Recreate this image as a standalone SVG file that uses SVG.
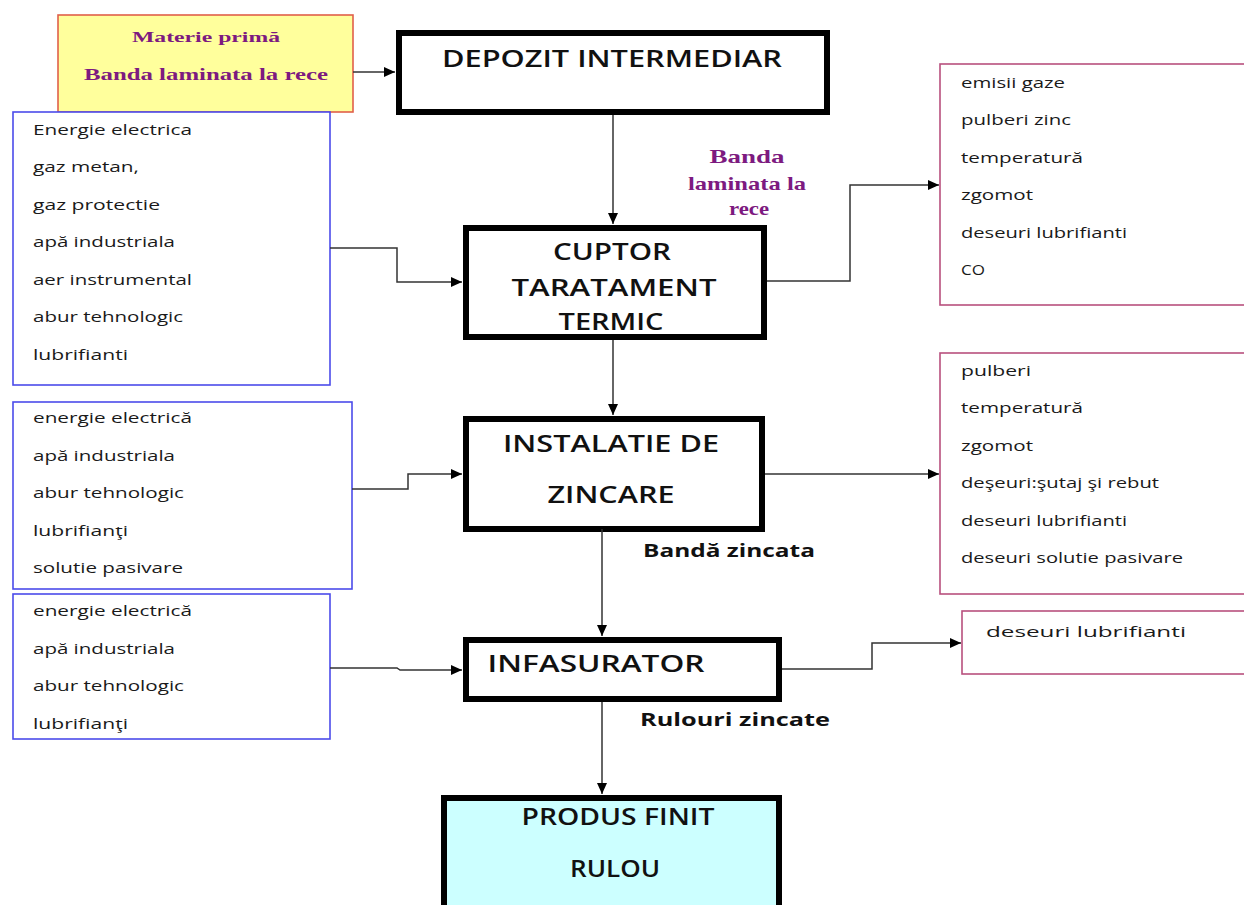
<svg xmlns="http://www.w3.org/2000/svg" width="1244" height="905" viewBox="0 0 1244 905">
  <style>
    .proc { fill: #ffffff; stroke: #000000; stroke-width: 6; }
    .inbox { fill: #ffffff; stroke: #4b4bea; stroke-width: 1.6; }
    .outbox { fill: #ffffff; stroke: #b8507e; stroke-width: 1.6; }
    .raw { fill: #ffff9c; stroke: #e0604a; stroke-width: 1.6; }
    .final { fill: #ccffff; stroke: #000000; stroke-width: 6; }
    .item { font-family: "Open Sans", "Liberation Sans", sans-serif; font-size: 14px; fill: #1a1a1a; }
    .big { font-family: "Open Sans", "Liberation Sans", sans-serif; font-size: 23px; font-weight: 600; fill: #111111; text-anchor: middle; }
    .flow { font-family: "Open Sans", "Liberation Sans", sans-serif; font-size: 17px; font-weight: bold; fill: #111111; }
    .purple { font-family: "Liberation Serif", serif; font-weight: bold; fill: #7d1a80; text-anchor: middle; }
    .conn { fill: none; stroke: #333333; stroke-width: 1.5; marker-end: url(#arrow); }
  </style>
  <defs>
    <marker id="arrow" markerUnits="userSpaceOnUse" markerWidth="12" markerHeight="10" refX="11" refY="5" orient="auto">
      <path d="M0,0 L11,5 L0,10 z" fill="#000000"/>
    </marker>
  </defs>

  <rect width="1244" height="905" fill="#ffffff"/>

  <!-- raw material -->
  <g id="materie-prima">
    <rect class="raw" x="58" y="15" width="295" height="97"/>
    <text class="purple" x="206" y="42" font-size="15" textLength="148" lengthAdjust="spacingAndGlyphs">Materie primă</text>
    <text class="purple" x="206" y="80" font-size="16" textLength="244" lengthAdjust="spacingAndGlyphs">Banda  laminata  la rece</text>
  </g>

  <!-- main process chain -->
  <g id="depozit">
    <rect class="proc" x="399" y="33" width="428" height="79"/>
    <text class="big" x="612" y="67" textLength="340" lengthAdjust="spacingAndGlyphs">DEPOZIT INTERMEDIAR</text>
  </g>

  <g id="banda-label">
    <text class="purple" x="747" y="163" font-size="19" textLength="75" lengthAdjust="spacingAndGlyphs">Banda</text>
    <text class="purple" x="747" y="190" font-size="19" textLength="118" lengthAdjust="spacingAndGlyphs">laminata la</text>
    <text class="purple" x="749" y="215" font-size="19" textLength="40" lengthAdjust="spacingAndGlyphs">rece</text>
  </g>

  <g id="cuptor">
    <rect class="proc" x="466" y="228" width="298" height="109"/>
    <text class="big" x="612" y="260" textLength="118" lengthAdjust="spacingAndGlyphs">CUPTOR</text>
    <text class="big" x="614" y="296" textLength="205" lengthAdjust="spacingAndGlyphs">TARATAMENT</text>
    <text class="big" x="611" y="330" textLength="105" lengthAdjust="spacingAndGlyphs">TERMIC</text>
  </g>

  <g id="instalatie">
    <rect class="proc" x="466" y="419" width="296" height="110"/>
    <text class="big" x="611" y="452" textLength="216" lengthAdjust="spacingAndGlyphs">INSTALATIE DE</text>
    <text class="big" x="611" y="503" textLength="127" lengthAdjust="spacingAndGlyphs">ZINCARE</text>
  </g>

  <g id="banda-zincata">
    <text class="flow" x="643" y="557" textLength="172" lengthAdjust="spacingAndGlyphs">Bandă zincata</text>
  </g>

  <g id="infasurator">
    <rect class="proc" x="466" y="640" width="313" height="59"/>
    <text class="big" x="596" y="672" textLength="217" lengthAdjust="spacingAndGlyphs">INFASURATOR</text>
  </g>

  <g id="rulouri-zincate">
    <text class="flow" x="640" y="726" textLength="190" lengthAdjust="spacingAndGlyphs">Rulouri zincate</text>
  </g>

  <g id="produs-finit">
    <rect class="final" x="444" y="798" width="335" height="120"/>
    <text class="big" x="618" y="825" textLength="193" lengthAdjust="spacingAndGlyphs">PRODUS FINIT</text>
    <text class="big" x="615" y="877" textLength="90" lengthAdjust="spacingAndGlyphs">RULOU</text>
  </g>

  <!-- inputs -->
  <g id="intrari-cuptor">
    <rect class="inbox" x="13" y="112" width="317" height="273"/>
    <text class="item" x="33" y="135" textLength="159" lengthAdjust="spacingAndGlyphs">Energie electrica</text>
    <text class="item" x="33" y="172" textLength="106" lengthAdjust="spacingAndGlyphs">gaz metan,</text>
    <text class="item" x="33" y="210" textLength="127" lengthAdjust="spacingAndGlyphs">gaz protectie</text>
    <text class="item" x="33" y="247" textLength="142" lengthAdjust="spacingAndGlyphs">apă industriala</text>
    <text class="item" x="33" y="285" textLength="159" lengthAdjust="spacingAndGlyphs">aer instrumental</text>
    <text class="item" x="33" y="322" textLength="150" lengthAdjust="spacingAndGlyphs">abur tehnologic</text>
    <text class="item" x="33" y="360" textLength="95" lengthAdjust="spacingAndGlyphs">lubrifianti</text>
  </g>

  <g id="intrari-zincare">
    <rect class="inbox" x="13" y="402" width="339" height="187"/>
    <text class="item" x="33" y="423" textLength="159" lengthAdjust="spacingAndGlyphs">energie electrică</text>
    <text class="item" x="33" y="461" textLength="142" lengthAdjust="spacingAndGlyphs">apă industriala</text>
    <text class="item" x="33" y="498" textLength="151" lengthAdjust="spacingAndGlyphs">abur tehnologic</text>
    <text class="item" x="33" y="536" textLength="95" lengthAdjust="spacingAndGlyphs">lubrifianţi</text>
    <text class="item" x="33" y="573" textLength="150" lengthAdjust="spacingAndGlyphs">solutie pasivare</text>
  </g>

  <g id="intrari-infasurator">
    <rect class="inbox" x="13" y="594" width="317" height="145"/>
    <text class="item" x="33" y="616" textLength="159" lengthAdjust="spacingAndGlyphs">energie electrică</text>
    <text class="item" x="33" y="654" textLength="142" lengthAdjust="spacingAndGlyphs">apă industriala</text>
    <text class="item" x="33" y="691" textLength="151" lengthAdjust="spacingAndGlyphs">abur tehnologic</text>
    <text class="item" x="33" y="729" textLength="95" lengthAdjust="spacingAndGlyphs">lubrifianţi</text>
  </g>

  <!-- outputs -->
  <g id="iesiri-cuptor">
    <rect class="outbox" x="940" y="64" width="320" height="241"/>
    <text class="item" x="961" y="88" textLength="104" lengthAdjust="spacingAndGlyphs">emisii gaze</text>
    <text class="item" x="961" y="125" textLength="110" lengthAdjust="spacingAndGlyphs">pulberi zinc</text>
    <text class="item" x="961" y="163" textLength="122" lengthAdjust="spacingAndGlyphs">temperatură</text>
    <text class="item" x="961" y="200" textLength="72" lengthAdjust="spacingAndGlyphs">zgomot</text>
    <text class="item" x="961" y="238" textLength="166" lengthAdjust="spacingAndGlyphs">deseuri lubrifianti</text>
    <text class="item" x="961" y="275" textLength="24" lengthAdjust="spacingAndGlyphs">CO</text>
  </g>

  <g id="iesiri-zincare">
    <rect class="outbox" x="940" y="353" width="320" height="241"/>
    <text class="item" x="961" y="376" textLength="70" lengthAdjust="spacingAndGlyphs">pulberi</text>
    <text class="item" x="961" y="413" textLength="122" lengthAdjust="spacingAndGlyphs">temperatură</text>
    <text class="item" x="961" y="451" textLength="72" lengthAdjust="spacingAndGlyphs">zgomot</text>
    <text class="item" x="961" y="488" textLength="198" lengthAdjust="spacingAndGlyphs">deşeuri:şutaj şi rebut</text>
    <text class="item" x="961" y="526" textLength="166" lengthAdjust="spacingAndGlyphs">deseuri lubrifianti</text>
    <text class="item" x="961" y="563" textLength="222" lengthAdjust="spacingAndGlyphs">deseuri solutie pasivare</text>
  </g>

  <g id="iesiri-infasurator">
    <rect class="outbox" x="962" y="611" width="300" height="63"/>
    <text class="item" x="986" y="637" font-size="17" textLength="200" lengthAdjust="spacingAndGlyphs">deseuri lubrifianti</text>
  </g>

  <!-- connectors -->
  <g id="connectors">
    <path class="conn" d="M353,72 H395"/>
    <path class="conn" d="M613,115 V224"/>
    <path class="conn" d="M330,248 H397 V282 H462"/>
    <path class="conn" d="M767,281 H850 V185 H939"/>
    <path class="conn" d="M613,340 V415"/>
    <path class="conn" d="M352,489 H408 V474 H462"/>
    <path class="conn" d="M765,474 H939"/>
    <path class="conn" d="M602,529 V636"/>
    <path class="conn" d="M330,668 H397 L400,670 H462"/>
    <path class="conn" d="M782,669 H872 V643 H961"/>
    <path class="conn" d="M602,702 V794"/>
  </g>
</svg>
